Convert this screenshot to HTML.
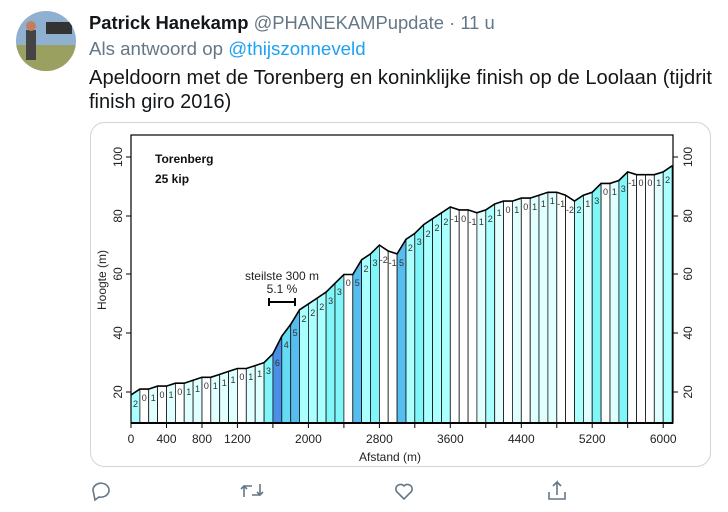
<!DOCTYPE html>
<html><head><meta charset="utf-8"><style>
body{margin:0;width:728px;height:512px;background:#fff;overflow:hidden;font-family:"Liberation Sans",sans-serif;position:relative}
</style></head><body>
<svg width="728" height="512" style="position:absolute;left:0;top:0">
<defs><clipPath id="av"><circle cx="46" cy="41" r="30"/></clipPath></defs>
<g clip-path="url(#av)">
<rect x="16" y="11" width="60" height="60" fill="#8fb0d0"/>
<rect x="16" y="45" width="60" height="26" fill="#9aa060"/>
<rect x="46" y="22" width="26" height="12" fill="#333"/>
<rect x="26" y="30" width="10" height="30" fill="#444"/>
<circle cx="31" cy="26" r="5" fill="#c08060"/>
</g>
<text x="89" y="29" font-size="18.4" font-weight="bold" fill="#14171a">Patrick Hanekamp <tspan font-weight="normal" fill="#657786">@PHANEKAMPupdate · 11 u</tspan></text>
<text x="89" y="55" font-size="18.7" fill="#657786">Als antwoord op <tspan fill="#1da1f2">@thijszonneveld</tspan></text>
<text x="89" y="84" font-size="20" fill="#14171a" textLength="623" lengthAdjust="spacingAndGlyphs">Apeldoorn met de Torenberg en koninklijke finish op de Loolaan (tijdrit</text>
<text x="89" y="108" font-size="20" fill="#14171a">finish giro 2016)</text>
<rect x="90.5" y="122.5" width="620" height="344" rx="14" fill="#fff" stroke="#ccd6dd"/>
<g stroke="#111" stroke-width="0.8">
<polygon fill="#aaffff" points="131,423 131,394.9 139.9,389.1 139.9,423"/>
<polygon fill="#fff" points="139.9,423 139.9,389.1 148.7,389.1 148.7,423"/>
<polygon fill="#e0ffff" points="148.7,423 148.7,389.1 157.6,386.1 157.6,423"/>
<polygon fill="#fff" points="157.6,423 157.6,386.1 166.5,386.1 166.5,423"/>
<polygon fill="#e0ffff" points="166.5,423 166.5,386.1 175.4,383.2 175.4,423"/>
<polygon fill="#fff" points="175.4,423 175.4,383.2 184.2,383.2 184.2,423"/>
<polygon fill="#e0ffff" points="184.2,423 184.2,383.2 193.1,380.3 193.1,423"/>
<polygon fill="#e0ffff" points="193.1,423 193.1,380.3 202,377.3 202,423"/>
<polygon fill="#fff" points="202,423 202,377.3 210.8,377.3 210.8,423"/>
<polygon fill="#e0ffff" points="210.8,423 210.8,377.3 219.7,374.4 219.7,423"/>
<polygon fill="#e0ffff" points="219.7,423 219.7,374.4 228.6,371.4 228.6,423"/>
<polygon fill="#e0ffff" points="228.6,423 228.6,371.4 237.4,368.5 237.4,423"/>
<polygon fill="#fff" points="237.4,423 237.4,368.5 246.3,368.5 246.3,423"/>
<polygon fill="#e0ffff" points="246.3,423 246.3,368.5 255.2,365.6 255.2,423"/>
<polygon fill="#e0ffff" points="255.2,423 255.2,365.6 264.1,362.6 264.1,423"/>
<polygon fill="#80f6f8" points="264.1,423 264.1,362.6 272.9,353.8 272.9,423"/>
<polygon fill="#4a8ee8" points="272.9,423 272.9,353.8 281.8,336.2 281.8,423"/>
<polygon fill="#66dcf2" points="281.8,423 281.8,336.2 290.7,324.4 290.7,423"/>
<polygon fill="#55bdf0" points="290.7,423 290.7,324.4 299.5,309.8 299.5,423"/>
<polygon fill="#aaffff" points="299.5,423 299.5,309.8 308.4,303.9 308.4,423"/>
<polygon fill="#aaffff" points="308.4,423 308.4,303.9 317.3,298 317.3,423"/>
<polygon fill="#aaffff" points="317.3,423 317.3,298 326.1,292.1 326.1,423"/>
<polygon fill="#80f6f8" points="326.1,423 326.1,292.1 335,283.3 335,423"/>
<polygon fill="#80f6f8" points="335,423 335,283.3 343.9,274.5 343.9,423"/>
<polygon fill="#fff" points="343.9,423 343.9,274.5 352.8,274.5 352.8,423"/>
<polygon fill="#55bdf0" points="352.8,423 352.8,274.5 361.6,259.8 361.6,423"/>
<polygon fill="#aaffff" points="361.6,423 361.6,259.8 370.5,253.9 370.5,423"/>
<polygon fill="#80f6f8" points="370.5,423 370.5,253.9 379.4,245.1 379.4,423"/>
<polygon fill="#fff" points="379.4,423 379.4,245.1 388.2,251 388.2,423"/>
<polygon fill="#fff" points="388.2,423 388.2,251 397.1,253.9 397.1,423"/>
<polygon fill="#55bdf0" points="397.1,423 397.1,253.9 406,239.3 406,423"/>
<polygon fill="#aaffff" points="406,423 406,239.3 414.8,233.4 414.8,423"/>
<polygon fill="#80f6f8" points="414.8,423 414.8,233.4 423.7,224.6 423.7,423"/>
<polygon fill="#aaffff" points="423.7,423 423.7,224.6 432.6,218.7 432.6,423"/>
<polygon fill="#aaffff" points="432.6,423 432.6,218.7 441.5,212.8 441.5,423"/>
<polygon fill="#aaffff" points="441.5,423 441.5,212.8 450.3,207 450.3,423"/>
<polygon fill="#fff" points="450.3,423 450.3,207 459.2,209.9 459.2,423"/>
<polygon fill="#fff" points="459.2,423 459.2,209.9 468.1,209.9 468.1,423"/>
<polygon fill="#fff" points="468.1,423 468.1,209.9 476.9,212.8 476.9,423"/>
<polygon fill="#e0ffff" points="476.9,423 476.9,212.8 485.8,209.9 485.8,423"/>
<polygon fill="#aaffff" points="485.8,423 485.8,209.9 494.7,204 494.7,423"/>
<polygon fill="#e0ffff" points="494.7,423 494.7,204 503.5,201.1 503.5,423"/>
<polygon fill="#fff" points="503.5,423 503.5,201.1 512.4,201.1 512.4,423"/>
<polygon fill="#e0ffff" points="512.4,423 512.4,201.1 521.3,198.1 521.3,423"/>
<polygon fill="#fff" points="521.3,423 521.3,198.1 530.2,198.1 530.2,423"/>
<polygon fill="#e0ffff" points="530.2,423 530.2,198.1 539,195.2 539,423"/>
<polygon fill="#e0ffff" points="539,423 539,195.2 547.9,192.3 547.9,423"/>
<polygon fill="#e0ffff" points="547.9,423 547.9,192.3 556.8,192.3 556.8,423"/>
<polygon fill="#fff" points="556.8,423 556.8,192.3 565.6,195.2 565.6,423"/>
<polygon fill="#fff" points="565.6,423 565.6,195.2 574.5,201.1 574.5,423"/>
<polygon fill="#aaffff" points="574.5,423 574.5,201.1 583.4,195.2 583.4,423"/>
<polygon fill="#e0ffff" points="583.4,423 583.4,195.2 592.2,192.3 592.2,423"/>
<polygon fill="#80f6f8" points="592.2,423 592.2,192.3 601.1,183.4 601.1,423"/>
<polygon fill="#fff" points="601.1,423 601.1,183.4 610,183.4 610,423"/>
<polygon fill="#e0ffff" points="610,423 610,183.4 618.9,180.5 618.9,423"/>
<polygon fill="#80f6f8" points="618.9,423 618.9,180.5 627.7,171.9 627.7,423"/>
<polygon fill="#fff" points="627.7,423 627.7,171.9 636.6,174.7 636.6,423"/>
<polygon fill="#fff" points="636.6,423 636.6,174.7 645.5,174.7 645.5,423"/>
<polygon fill="#fff" points="645.5,423 645.5,174.7 654.3,174.7 654.3,423"/>
<polygon fill="#e0ffff" points="654.3,423 654.3,174.7 663.2,171.9 663.2,423"/>
<polygon fill="#aaffff" points="663.2,423 663.2,171.9 672.1,165.8 672.1,423"/>
</g>
<polyline fill="none" stroke="#000" stroke-width="1.6" points="131,394.9 139.9,389.1 148.7,389.1 157.6,386.1 166.5,386.1 175.4,383.2 184.2,383.2 193.1,380.3 202,377.3 210.8,377.3 219.7,374.4 228.6,371.4 237.4,368.5 246.3,368.5 255.2,365.6 264.1,362.6 272.9,353.8 281.8,336.2 290.7,324.4 299.5,309.8 308.4,303.9 317.3,298 326.1,292.1 335,283.3 343.9,274.5 352.8,274.5 361.6,259.8 370.5,253.9 379.4,245.1 388.2,251 397.1,253.9 406,239.3 414.8,233.4 423.7,224.6 432.6,218.7 441.5,212.8 450.3,207 459.2,209.9 468.1,209.9 476.9,212.8 485.8,209.9 494.7,204 503.5,201.1 512.4,201.1 521.3,198.1 530.2,198.1 539,195.2 547.9,192.3 556.8,192.3 565.6,195.2 574.5,201.1 583.4,195.2 592.2,192.3 601.1,183.4 610,183.4 618.9,180.5 627.7,171.9 636.6,174.7 645.5,174.7 654.3,174.7 663.2,171.9 672.1,165.8"/>
<g font-size="9" fill="#333" text-anchor="middle">
<text x="135.5" y="407">2</text><text x="144.3" y="401">0</text><text x="153.2" y="401">1</text><text x="162" y="398">0</text><text x="171" y="398">1</text><text x="179.8" y="395">0</text><text x="188.7" y="395">1</text><text x="197.5" y="392">1</text><text x="206.4" y="389">0</text><text x="215.3" y="389">1</text><text x="224.2" y="386">1</text><text x="233" y="383">1</text><text x="241.9" y="380">0</text><text x="250.8" y="380">1</text><text x="259.6" y="377">1</text><text x="268.5" y="374">3</text><text x="277.4" y="366">6</text><text x="286.2" y="348">4</text><text x="295.1" y="336">5</text><text x="304" y="322">2</text><text x="312.8" y="316">2</text><text x="321.7" y="310">2</text><text x="330.6" y="304">3</text><text x="339.4" y="295">3</text><text x="348.3" y="286">0</text><text x="357.2" y="286">5</text><text x="366" y="272">2</text><text x="375" y="266">3</text><text x="383.8" y="263">-2</text><text x="392.6" y="266">-1</text><text x="401.5" y="266">5</text><text x="410.4" y="251">2</text><text x="419.2" y="245">3</text><text x="428.1" y="237">2</text><text x="437" y="231">2</text><text x="445.9" y="225">2</text><text x="454.8" y="222">-1</text><text x="463.6" y="222">0</text><text x="472.5" y="225">-1</text><text x="481.4" y="225">1</text><text x="490.2" y="222">2</text><text x="499.1" y="216">1</text><text x="508" y="213">0</text><text x="516.8" y="213">1</text><text x="525.7" y="210">0</text><text x="534.6" y="210">1</text><text x="543.4" y="207">1</text><text x="552.3" y="204">1</text><text x="561.2" y="207">-1</text><text x="570" y="213">-2</text><text x="579" y="213">2</text><text x="587.8" y="207">1</text><text x="596.7" y="204">3</text><text x="605.5" y="195">0</text><text x="614.4" y="195">1</text><text x="623.3" y="192">3</text><text x="632.2" y="186">-1</text><text x="641" y="186">0</text><text x="649.9" y="186">0</text><text x="658.8" y="186">1</text><text x="667.6" y="183">2</text>
</g>
<rect x="131" y="135" width="542" height="288" fill="none" stroke="#000" stroke-width="1.2"/>
<line x1="131" y1="423" x2="673" y2="423" stroke="#000" stroke-width="2"/>
<g stroke="#000" stroke-width="1">
<line x1="131" y1="423" x2="131" y2="428"/><line x1="166.5" y1="423" x2="166.5" y2="428"/><line x1="202" y1="423" x2="202" y2="428"/><line x1="237.4" y1="423" x2="237.4" y2="428"/><line x1="272.9" y1="423" x2="272.9" y2="428"/><line x1="308.4" y1="423" x2="308.4" y2="428"/><line x1="343.9" y1="423" x2="343.9" y2="428"/><line x1="379.4" y1="423" x2="379.4" y2="428"/><line x1="414.8" y1="423" x2="414.8" y2="428"/><line x1="450.3" y1="423" x2="450.3" y2="428"/><line x1="485.8" y1="423" x2="485.8" y2="428"/><line x1="521.3" y1="423" x2="521.3" y2="428"/><line x1="556.8" y1="423" x2="556.8" y2="428"/><line x1="592.2" y1="423" x2="592.2" y2="428"/><line x1="627.7" y1="423" x2="627.7" y2="428"/><line x1="663.2" y1="423" x2="663.2" y2="428"/>
<line x1="673" y1="157" x2="678" y2="157"/><line x1="673" y1="216" x2="678" y2="216"/><line x1="673" y1="274" x2="678" y2="274"/><line x1="673" y1="333" x2="678" y2="333"/><line x1="673" y1="392" x2="678" y2="392"/>
<line x1="126" y1="157" x2="131" y2="157"/><line x1="126" y1="216" x2="131" y2="216"/><line x1="126" y1="274" x2="131" y2="274"/><line x1="126" y1="333" x2="131" y2="333"/><line x1="126" y1="392" x2="131" y2="392"/>
</g>
<g font-size="12" fill="#222" text-anchor="middle">
<text x="131" y="443">0</text><text x="166.5" y="443">400</text><text x="202" y="443">800</text><text x="237.4" y="443">1200</text><text x="308.4" y="443">2000</text><text x="379.4" y="443">2800</text><text x="450.3" y="443">3600</text><text x="521.3" y="443">4400</text><text x="592.2" y="443">5200</text><text x="663.2" y="443">6000</text>
<text x="390" y="461">Afstand (m)</text>
<text transform="translate(122,157) rotate(-90)">100</text><text transform="translate(122,216) rotate(-90)">80</text><text transform="translate(122,274) rotate(-90)">60</text><text transform="translate(122,333) rotate(-90)">40</text><text transform="translate(122,392) rotate(-90)">20</text>
<text transform="translate(692,157) rotate(-90)">100</text><text transform="translate(692,216) rotate(-90)">80</text><text transform="translate(692,274) rotate(-90)">60</text><text transform="translate(692,333) rotate(-90)">40</text><text transform="translate(692,392) rotate(-90)">20</text>
<text transform="translate(106,280) rotate(-90)">Hoogte (m)</text>
<text x="282" y="280">steilste 300 m</text><text x="282" y="293">5.1 %</text>
</g>
<g stroke="#000" stroke-width="2"><line x1="269" y1="302" x2="295" y2="302"/><line x1="269" y1="298" x2="269" y2="306"/><line x1="295" y1="298" x2="295" y2="306"/></g>
<text x="155" y="163" font-size="12" font-weight="bold" fill="#111">Torenberg</text>
<text x="155" y="183" font-size="12" font-weight="bold" fill="#111">25 kip</text>
<g fill="none" stroke="#657786" stroke-width="1.6">
<path d="M93,490 a8,7 0 1,1 6,7 l-4,3 z"/>
<path d="M244,497 v-11 h8 M241,489 l3,-3 l3,3 M260,484 v11 h-8 M257,492 l3,3 l3,-3"/>
<path d="M404,499 l-7,-7 a4,4 0 0,1 7,-6 a4,4 0 0,1 7,6 z"/>
<path d="M557,495 v-13 l-4,4 M557,482 l4,4 M549,492 v7 h16 v-7"/>
</g>
</svg>
</body></html>
